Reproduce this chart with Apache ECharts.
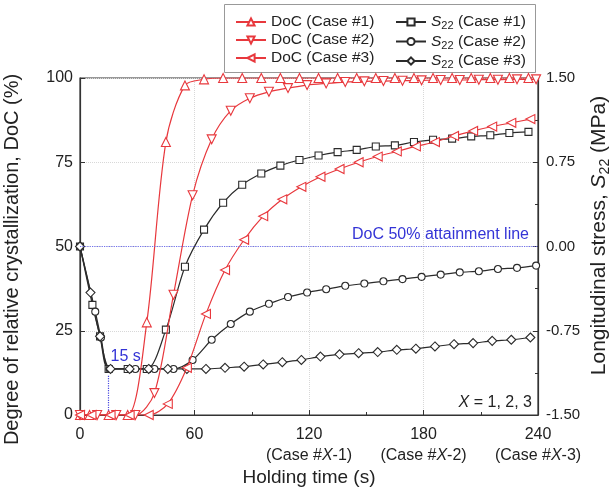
<!DOCTYPE html>
<html>
<head>
<meta charset="UTF-8">
<title>DoC and S22</title>
<script src="https://cdn.jsdelivr.net/npm/echarts@6/dist/echarts.min.js"></script>
<style>
  html, body { margin: 0; padding: 0; background: #fff; }
  #chart { width: 609px; height: 495px; }
</style>
</head>
<body>
<div id="chart"></div>
<script>
// holding time (s) and DoC (%) for each case
const tDoC1 = [0,5,15,25,35,45,55,65,75,85,95,105,115,125,135,145,155,165,175,185,195,205,215,225,235];
const doc1  = [0,0,0,0,27.5,81,97.8,99.6,100,100,100,100,100,100,100,100,100,100,100,100,100,100,100,100,100];
const tDoC2 = [0,9,19,29,39,49,59,69,79,89,99,109,119,129,139,149,159,169,179,189,199,209,219,229,239];
const doc2  = [0,0,0,0,6.5,35.7,65.2,81.8,90.3,94.0,95.9,97.0,97.9,98.4,98.8,99.0,99.1,99.2,99.3,99.4,99.4,99.5,99.5,99.6,99.6];
const tDoC3 = [0,6,16,26,36,46,56,66,76,86,96,106,116,126,136,146,156,166,176,186,196,206,216,226,236];
const doc3  = [0,0,0,0,0,3.3,14,30,43,52,59,64,67.7,70.7,73,75,76.7,78.2,79.7,81,82.8,84.3,85.6,86.7,87.8];

// longitudinal stress S22 (MPa)
const tS1 = [0,6.5,10.5,15,25,35,45,55,65,75,85,95,105,115,125,135,145,155,165,175,185,195,205,215,225,235];
const s1  = [0,-0.52,-0.80,-1.09,-1.09,-1.09,-0.74,-0.18,0.15,0.39,0.55,0.65,0.72,0.77,0.81,0.84,0.86,0.89,0.90,0.93,0.95,0.96,0.98,0.99,1.01,1.02];
const tS2 = [0,8,11,15.5,29,39,49,59,69,79,89,99,109,119,129,139,149,159,169,179,189,199,209,219,229,239];
const s2  = [0,-0.58,-0.81,-1.09,-1.09,-1.09,-1.09,-1.01,-0.83,-0.69,-0.58,-0.51,-0.45,-0.41,-0.38,-0.35,-0.33,-0.31,-0.29,-0.27,-0.25,-0.23,-0.22,-0.20,-0.19,-0.17];
const tS3 = [0,5.5,10.5,16,26,36,46,56,66,76,86,96,106,116,126,136,146,156,166,176,186,196,206,216,226,236];
const s3  = [0,-0.41,-0.80,-1.09,-1.09,-1.09,-1.09,-1.09,-1.09,-1.08,-1.07,-1.05,-1.03,-1.01,-0.98,-0.96,-0.95,-0.94,-0.92,-0.91,-0.89,-0.87,-0.86,-0.84,-0.83,-0.81];

const xTicks = [0,60,120,180,240];
const caseTags = {120: '-1', 180: '-2', 240: '-3'};

const RED = '#e8383d';
const BLK = '#2b2b2b';
const BLUE = '#3434d6';
const FONT = 'Arial, "Liberation Sans", sans-serif';

function zip(t, v) {
    return t.map((x, i) => [x, v[i]]);
}

function mk(name, t, v, symbol, rotate, size, color, axis) {
    return {
        name: name,
        type: 'line',
        yAxisIndex: axis,
        data: zip(t, v),
        smooth: 0.3,
        symbol: symbol,
        symbolRotate: rotate,
        symbolSize: size,
        showAllSymbol: true,
        lineStyle: {color: color, width: 1.2},
        itemStyle: {color: '#fff', borderColor: color, borderWidth: 1.1},
        emphasis: {disabled: true},
        z: axis === 0 ? 3 : 2
    };
}

const series = [
    mk('DoC (Case #1)', tDoC1, doc1, 'triangle', 0, 9, RED, 0),
    mk('DoC (Case #2)', tDoC2, doc2, 'triangle', 180, 9, RED, 0),
    mk('DoC (Case #3)', tDoC3, doc3, 'triangle', 90, 9, RED, 0),
    mk('S22 (Case #1)', tS1, s1, 'rect', 0, 7, BLK, 1),
    mk('S22 (Case #2)', tS2, s2, 'circle', 0, 7, BLK, 1),
    mk('S22 (Case #3)', tS3, s3, 'diamond', 0, 9, BLK, 1)
];

// 50 % line and 15 s marker
series[0].markLine = {
    silent: true,
    symbol: 'none',
    lineStyle: {color: '#7070ee', type: 'dotted', width: 1.2},
    label: {
        position: 'insideEndTop',
        formatter: 'DoC 50% attainment line',
        color: BLUE, fontSize: 16, fontFamily: FONT, distance: 4,
        padding: [0, 5, 0, 0]
    },
    data: [{yAxis: 50}]
};
series[5].markLine = {
    silent: true,
    symbol: ['none', 'arrow'],
    symbolSize: [0, 6],
    lineStyle: {color: '#4a4ae0', type: 'dotted', width: 1.2},
    label: {
        position: 'start',
        formatter: '15 s',
        color: BLUE, fontSize: 16, fontFamily: FONT,
        offset: [17, -6]
    },
    data: [[{coord: [15, -1.15]}, {coord: [15, -1.46]}]]
};

const rich = {
    i: {fontStyle: 'italic', fontSize: 15.5, fontFamily: FONT, color: '#222'},
    s: {fontSize: 11, fontFamily: FONT, color: '#222', verticalAlign: 'bottom', padding: [8, 0, 0, 0]}
};

const legendBase = {
    orient: 'vertical',
    top: 9,
    itemGap: 2,
    itemWidth: 30,
    itemHeight: 9,
    textStyle: {fontSize: 15.5, fontFamily: FONT, color: '#222', rich: rich},
    formatter: name => name.replace('S22', '{i|S}{s|22}')
};

const option = {
    backgroundColor: '#fff',
    animation: false,
    grid: {
        left: 80, right: 71, top: 78, bottom: 80,
        outerBoundsMode: 'none',
        show: true, borderColor: '#333', borderWidth: 1.2
    },
    legend: [
        Object.assign({left: 230, data: series.slice(0, 3).map(s => s.name)}, legendBase),
        Object.assign({left: 390, data: series.slice(3).map(s => s.name)}, legendBase)
    ],
    xAxis: {
        type: 'value', min: 0, max: 240, interval: 60,
        name: 'Holding time (s)', nameLocation: 'middle', nameGap: 53,
        nameMoveOverlap: false,
        nameTextStyle: {fontSize: 19, fontFamily: FONT, color: '#222'},
        axisLine: {lineStyle: {color: '#333', width: 1.2}},
        axisTick: {inside: true, length: 5, lineStyle: {color: '#333'}},
        minorTick: {show: true, splitNumber: 2, length: 3, lineStyle: {color: '#333'}},
        splitLine: {show: true, lineStyle: {color: '#d8d8d8', type: 'dotted'}},
        axisLabel: {
            margin: 9, fontSize: 16, fontFamily: FONT, color: '#222', lineHeight: 21,
            formatter: v => xTicks.includes(v) && caseTags[v]
                ? v + '\n{c|(Case #}{x|X}{c|' + caseTags[v] + ')}'
                : String(v),
            rich: {
                c: {fontSize: 16, fontFamily: FONT, color: '#222', lineHeight: 21},
                x: {fontSize: 16, fontFamily: FONT, color: '#222', fontStyle: 'italic', lineHeight: 21}
            }
        }
    },
    yAxis: [
        {
            type: 'value', min: 0, max: 100, interval: 25,
            name: 'Degree of relative crystallization, DoC (%)',
            nameLocation: 'middle', nameGap: 58, nameRotate: 90,
            nameMoveOverlap: false,
            nameTextStyle: {fontSize: 20, fontFamily: FONT, color: '#222', padding: [0, 26, 0, 0]},
            axisLine: {show: true, lineStyle: {color: '#333', width: 1.2}},
            axisTick: {show: true, inside: true, length: 5, lineStyle: {color: '#333'}},
            splitLine: {show: true, lineStyle: {color: '#d8d8d8', type: 'dotted'}},
            axisLabel: {margin: 7, fontSize: 16, fontFamily: FONT, color: '#222'}
        },
        {
            type: 'value', min: -1.5, max: 1.5, interval: 0.75, position: 'right',
            name: 'Longitudinal stress, {i|S}{s|22} (MPa)',
            nameLocation: 'middle', nameGap: 49, nameRotate: 90,
            nameMoveOverlap: false,
            nameTextStyle: {fontSize: 21, fontFamily: FONT, color: '#222', padding: [0, 0, 0, 22], rich: {
                i: {fontStyle: 'italic', fontSize: 21, fontFamily: FONT, color: '#222'},
                s: {fontSize: 14, fontFamily: FONT, color: '#222', verticalAlign: 'bottom', padding: [11, 0, 0, 0]}
            }},
            axisLine: {show: true, lineStyle: {color: '#333', width: 1.2}},
            axisTick: {show: true, inside: true, length: 5, lineStyle: {color: '#333'}},
            minorTick: {show: true, splitNumber: 2, length: 3, lineStyle: {color: '#333'}},
            splitLine: {show: false},
            axisLabel: {margin: 8, fontSize: 15, fontFamily: FONT, color: '#222', formatter: v => v.toFixed(2)}
        }
    ],
    graphic: [
        {
            type: 'rect', left: 224, top: 4, z: -1,
            shape: {width: 311, height: 68},
            style: {fill: '#fff', stroke: '#999', lineWidth: 1}
        },
        {
            type: 'text', right: 77, bottom: 84, z: 10,
            style: {
                text: '{i|X} = 1, 2, 3',
                fontSize: 16, fontFamily: FONT, fill: '#222',
                rich: {i: {fontStyle: 'italic', fontSize: 16, fontFamily: FONT, color: '#222'}}
            }
        }
    ],
    series: series
};

const chart = echarts.init(document.getElementById('chart'));
chart.setOption(option);
</script>
</body>
</html>
